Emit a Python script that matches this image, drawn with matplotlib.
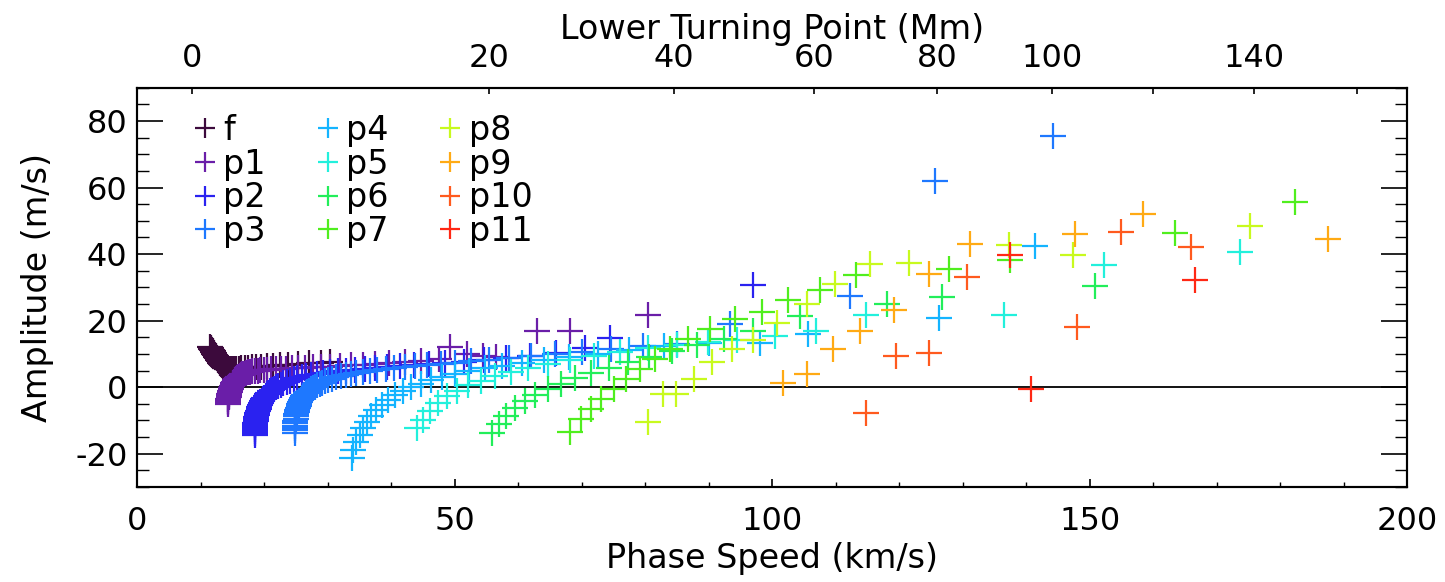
import matplotlib
matplotlib.use("Agg")
import matplotlib.pyplot as plt
from matplotlib.ticker import MultipleLocator, FixedLocator

plt.rcParams['font.family'] = ['DejaVu Sans']
plt.rcParams['axes.unicode_minus'] = False

# ---------------- data ----------------
mode_names = ['f', 'p1', 'p2', 'p3', 'p4', 'p5', 'p6', 'p7', 'p8', 'p9', 'p10', 'p11']

f_v = [11.45, 11.55, 11.65, 11.75, 11.85, 11.95, 12.05, 12.15, 12.25, 12.35,
       12.45, 12.55, 12.65, 12.75, 12.85, 12.95, 13.05, 13.15, 13.3, 13.45,
       13.6, 13.75, 13.9, 14.1, 14.3, 14.5, 14.75, 15.0, 15.3, 15.6,
       16.0, 16.4, 16.9, 17.4, 18.0, 18.7, 19.5, 20.4, 21.4, 22.5,
       23.8, 25.3, 27.0, 28.9, 30.3]
f_a = [12.1, 11.8, 11.5, 11.2, 10.9, 10.6, 10.3, 10.0, 9.7, 9.4,
       9.1, 8.8, 8.5, 8.2, 7.9, 7.6, 7.3, 7.0, 6.7, 6.4,
       6.1, 5.9, 5.7, 5.5, 5.4, 5.4, 5.4, 5.5, 5.5, 5.6,
       5.6, 5.7, 5.8, 5.9, 6.0, 6.1, 6.2, 6.3, 6.4, 6.6,
       6.8, 7.0, 7.2, 7.4, 7.6]

p1_v = [14.3, 14.3, 14.35, 14.35, 14.4, 14.45, 14.5, 14.55, 14.6, 14.7,
        14.8, 14.9, 15.0, 15.1, 15.25, 15.4, 15.55, 15.7, 15.9, 16.1,
        16.3, 16.55, 16.8, 17.1, 17.4, 17.75, 18.1, 18.5, 18.95, 19.4,
        19.9, 20.5, 21.1, 21.8, 22.6, 23.4, 24.3, 25.3, 26.4, 27.6,
        28.9, 30.3, 31.9, 33.6, 35.5, 37.5, 39.7, 42.1, 44.7, 47.5,
        49.2, 51.9, 54.5, 56.5, 63.0, 68.2, 80.4]
p1_a = [-5.1, -4.6, -4.1, -3.6, -3.1, -2.6, -2.1, -1.6, -1.1, -0.6,
        -0.1, 0.4, 0.9, 1.3, 1.7, 2.1, 2.5, 2.8, 3.1, 3.4,
        3.7, 3.9, 4.1, 4.3, 4.5, 4.7, 4.8, 4.9, 5.0, 5.1,
        5.2, 5.3, 5.4, 5.5, 5.5, 5.6, 5.7, 5.8, 5.9, 6.0,
        6.1, 6.2, 6.4, 6.6, 6.8, 7.0, 7.3, 7.6, 8.0, 8.6,
        12.1, 10.0, 9.4, 9.0, 16.8, 16.8, 21.6]

p2_v = [18.5, 18.5, 18.5, 18.55, 18.55, 18.6, 18.6, 18.65, 18.7, 18.75,
        18.8, 18.9, 19.0, 19.1, 19.2, 19.35, 19.5, 19.65, 19.8, 20.0,
        20.2, 20.4, 20.65, 20.9, 21.2, 21.5, 21.85, 22.2, 22.6, 23.0,
        23.5, 24.0, 24.6, 25.2, 25.9, 26.6, 27.4, 28.3, 29.3, 30.4,
        31.6, 32.9, 34.3, 35.8, 37.5, 39.3, 41.3, 43.5, 45.9, 48.5,
        51.4, 54.6, 58.0, 61.8, 66.0, 70.5, 74.5, 96.9]
p2_a = [-14.4, -13.8, -13.2, -12.6, -12.0, -11.4, -10.8, -10.2, -9.6, -9.0,
        -8.4, -7.8, -7.2, -6.6, -6.0, -5.4, -4.8, -4.2, -3.7, -3.2,
        -2.7, -2.2, -1.7, -1.2, -0.8, -0.4, 0.0, 0.4, 0.8, 1.2,
        1.6, 2.0, 2.4, 2.7, 3.0, 3.3, 3.6, 3.9, 4.2, 4.5,
        4.8, 5.0, 5.3, 5.5, 5.8, 6.0, 6.3, 6.6, 6.9, 7.3,
        7.7, 8.2, 8.8, 9.5, 10.4, 11.8, 14.9, 30.6]

p3_v = [24.8, 24.8, 24.8, 24.85, 24.85, 24.9, 24.95, 25.0, 25.05, 25.1,
        25.2, 25.3, 25.4, 25.5, 25.65, 25.8, 25.95, 26.1, 26.3, 26.5,
        26.75, 27.0, 27.3, 27.6, 27.95, 28.3, 28.7, 29.1, 29.6, 30.1,
        30.7, 31.3, 32.0, 32.8, 33.6, 34.5, 35.5, 36.6, 37.8, 39.1,
        40.5, 42.1, 43.8, 45.7, 47.8, 50.1, 52.6, 55.4, 58.5, 62.0,
        65.8, 70.0, 74.6, 79.6, 85.0, 93.4, 112.2, 125.7, 144.2]
p3_a = [-13.7, -13.0, -12.3, -11.6, -10.9, -10.2, -9.5, -8.8, -8.1, -7.4,
        -6.8, -6.2, -5.6, -5.0, -4.4, -3.8, -3.3, -2.8, -2.3, -1.8,
        -1.4, -1.0, -0.6, -0.2, 0.2, 0.6, 1.0, 1.4, 1.8, 2.2,
        2.6, 3.0, 3.3, 3.6, 3.9, 4.2, 4.5, 4.8, 5.1, 5.4,
        5.7, 6.0, 6.3, 6.6, 7.0, 7.4, 7.8, 8.3, 8.8, 9.4,
        10.0, 10.7, 11.5, 12.3, 13.0, 19.1, 27.3, 62.0, 75.5]

p4_v = [33.8, 34.0, 34.5, 35.0, 35.5, 36.1, 36.8, 37.6, 38.5, 39.5, 40.6, 41.8, 43.1, 44.6, 46.2,
        48.0, 50.0, 52.2, 54.7, 57.5, 60.6, 64.1, 68.0, 72.5, 77.5, 83.0, 90.0, 98.1, 105.7, 126.3,
        141.3]
p4_a = [-21.4, -18.9, -16.4, -14.4, -12.4, -10.5, -8.7, -7.0, -5.4, -3.9, -2.5, -1.2, 0.0, 1.1, 2.1,
        3.1, 4.0, 4.9, 5.7, 6.5, 7.3, 8.2, 9.1, 10.1, 11.2, 12.3, 13.2, 13.3, 16.1, 20.8,
        42.3]

p5_v = [44.0, 45.0, 46.1, 47.3, 48.7, 50.3, 52.1, 54.1, 56.3, 58.8, 61.6, 64.7, 68.1, 71.9, 76.0,
        80.5, 85.0, 89.9, 94.4, 100.5, 106.9, 114.7, 136.5, 152.2, 173.6]
p5_a = [-12.4, -9.9, -7.2, -4.9, -2.8, -1.0, 0.6, 2.0, 3.3, 4.6, 5.8, 7.0, 8.2, 9.4, 10.6,
        11.7, 12.7, 13.6, 14.1, 15.5, 16.8, 21.6, 21.6, 36.8, 40.7]

p6_v = [55.8, 56.9, 58.1, 59.5, 61.0, 62.7, 64.6, 66.7, 69.0, 71.5, 74.3, 77.3, 80.6, 84.2, 88.1,
        92.4, 97.0, 104.4, 118.0, 126.7, 150.8]
p6_a = [-13.9, -11.2, -8.7, -6.4, -4.3, -2.4, -0.6, 1.1, 2.7, 4.3, 5.9, 7.5, 9.1, 10.8, 12.6,
        14.6, 17.0, 21.3, 24.9, 27.1, 30.3]

p7_v = [68.1, 69.9, 71.5, 73.1, 75.0, 77.0, 79.2, 81.5, 83.9, 86.8, 90.2, 94.1, 98.3, 102.5, 107.5,
        113.2, 127.9, 137.4, 163.4, 182.3]
p7_a = [-13.4, -9.5, -6.5, -3.5, -0.5, 2.5, 5.5, 8.5, 11.5, 14.5, 17.5, 20.5, 22.6, 26.1, 29.3,
        33.6, 35.6, 38.3, 46.3, 55.5]

p8_v = [80.5, 82.8, 84.9, 87.6, 90.5, 93.6, 97.0, 100.7, 105.5, 109.9, 115.4, 121.5, 137.2, 147.3, 175.3]
p8_a = [-10.4, -2.1, -2.1, 2.6, 7.6, 11.6, 14.3, 19.3, 25.1, 31.1, 37.1, 37.4, 42.8, 39.8, 48.3]

p9_v = [101.7, 105.4, 109.5, 113.8, 119.1, 124.7, 131.2, 147.7, 158.4, 187.5]
p9_a = [1.3, 3.9, 11.4, 16.9, 23.1, 34.1, 43.1, 46.0, 52.0, 44.5]

p10_v = [114.7, 119.5, 124.7, 130.7, 148.0, 154.9, 165.9]
p10_a = [-7.9, 9.3, 10.4, 33.0, 18.1, 46.7, 42.0]

p11_v = [137.5, 140.7, 166.6]
p11_a = [39.6, -0.4, 32.1]

mode_v = [f_v, p1_v, p2_v, p3_v, p4_v, p5_v, p6_v, p7_v, p8_v, p9_v, p10_v, p11_v]
mode_a = [f_a, p1_a, p2_a, p3_a, p4_a, p5_a, p6_a, p7_a, p8_a, p9_a, p10_a, p11_a]

# top axis: lower turning point (Mm) tick labels and where they fall in phase speed
ltp_labels = ['0', '20', '40', '60', '80', '100', '', '140', '']
ltp_at_speed = [8.66, 55.43, 84.5, 106.6, 126.0, 144.1, 160.0, 175.9, 192.0]

colors = ['#3c0a3c', '#6a1ea8', '#2a22f0', '#1e78ff', '#14b4ff', '#22f0dc',
          '#22ee5a', '#50ee1e', '#c8fa1e', '#ffaa14', '#ff5a1e', '#ff2814']

# ---------------- figure ----------------
W, H = 1445, 582
fig = plt.figure(figsize=(W / 100, H / 100), dpi=100)
ax = fig.add_axes([137.3 / W, 1 - 487 / H, (1407.3 - 137.3) / W, (487 - 87.7) / H])

fs_tick = 23
fs_lab = 24
ax.axhline(0, color='black', lw=1.3, zorder=1)
for name, v, a, c in zip(mode_names, mode_v, mode_a, colors):
    ax.plot(v, a, ls='none', marker='+', ms=18.5, mew=1.6, color=c, label=name, zorder=2)

ax.set_xlim(0, 200)
ax.set_ylim(-30, 90)
ax.xaxis.set_major_locator(MultipleLocator(50))
ax.xaxis.set_minor_locator(MultipleLocator(10))
ax.yaxis.set_major_locator(FixedLocator([-20, 0, 20, 40, 60, 80]))
ax.yaxis.set_minor_locator(MultipleLocator(5))
ax.tick_params(axis='x', which='major', direction='in', length=6, width=1.2, labelsize=fs_tick, pad=14, top=False)
ax.tick_params(axis='x', which='minor', direction='in', length=3.5, width=1.0, top=False)
ax.tick_params(axis='y', which='major', direction='in', length=19, width=1.2, labelsize=fs_tick, pad=7, right=True)
ax.tick_params(axis='y', which='minor', direction='in', length=8.5, width=1.0, right=True)
for s in ax.spines.values():
    s.set_linewidth(1.5)

ax.set_xlabel('Phase Speed (km/s)', fontsize=fs_lab, labelpad=3)
ax.set_ylabel('Amplitude (m/s)', fontsize=fs_lab, labelpad=15)

ax2 = ax.twiny()
ax2.set_xlim(ax.get_xlim())
ax2.set_xticks(ltp_at_speed)
ax2.set_xticklabels(ltp_labels)
ax2.tick_params(axis='x', direction='in', length=4.5, width=1.2, labelsize=fs_tick, pad=10)
ax2.set_xlabel('Lower Turning Point (Mm)', fontsize=fs_lab, labelpad=3)
for s in ax2.spines.values():
    s.set_linewidth(1.5)

leg = ax.legend(loc='upper left', ncol=3, frameon=False, fontsize=fs_lab, markerscale=0.8,
                handlelength=0.7, handletextpad=0.2, columnspacing=1.5, labelspacing=0.02,
                borderpad=0.0, borderaxespad=0.0,
                bbox_to_anchor=(193.5 / W, 1 - 114 / H), bbox_transform=fig.transFigure)

fig.savefig('out.png', dpi=100)
